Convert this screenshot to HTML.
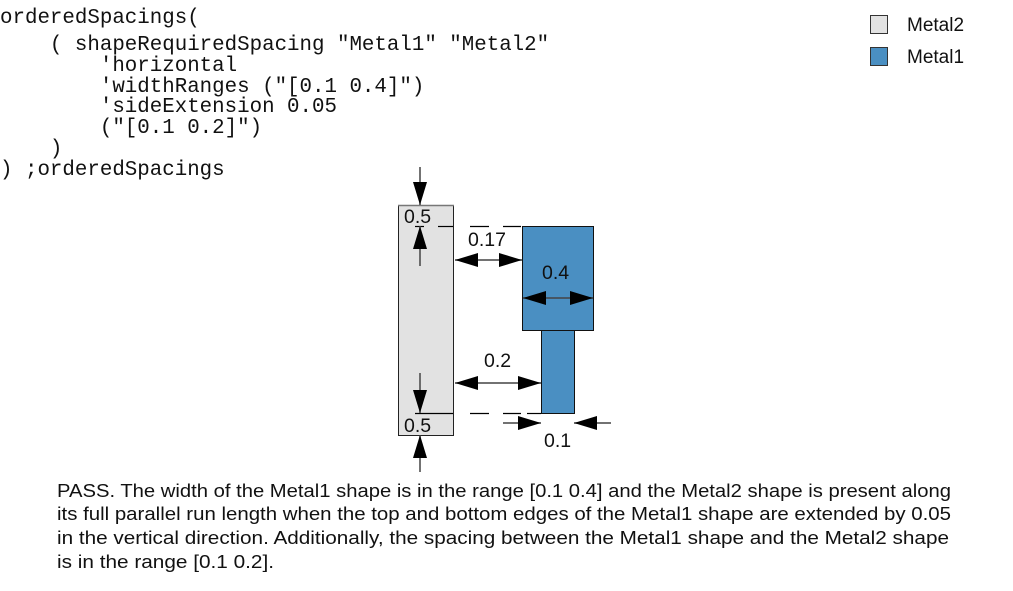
<!DOCTYPE html>
<html><head><meta charset="utf-8"><style>
html,body{margin:0;padding:0;background:#fff;width:1013px;height:591px;overflow:hidden}
svg{display:block}
.m{font-family:"Liberation Mono",monospace;font-size:20.8px;fill:#111}
.s{font-family:"Liberation Sans",sans-serif;fill:#111}
</style></head><body>
<svg width="1013" height="591" viewBox="0 0 1013 591" xmlns="http://www.w3.org/2000/svg">
<defs>
<marker id="a" markerWidth="23" markerHeight="14" refX="23" refY="7" orient="auto" markerUnits="userSpaceOnUse">
<path d="M0,0 L23,7 L0,14 Z" fill="#000"/></marker>
</defs>
<g class="m">
<text x="0" y="23">orderedSpacings(</text>
<text x="0" y="50" xml:space="preserve">    ( shapeRequiredSpacing "Metal1" "Metal2"</text>
<text x="0" y="71" xml:space="preserve">        'horizontal</text>
<text x="0" y="92" xml:space="preserve">        'widthRanges ("[0.1 0.4]")</text>
<text x="0" y="112" xml:space="preserve">        'sideExtension 0.05</text>
<text x="0" y="133" xml:space="preserve">        ("[0.1 0.2]")</text>
<text x="0" y="154" xml:space="preserve">    )</text>
<text x="0" y="175" xml:space="preserve">) ;orderedSpacings</text>
</g>
<rect x="870.5" y="15.5" width="17" height="18" fill="#e2e2e2" stroke="#333"/>
<rect x="870.5" y="47.5" width="17" height="18" fill="#4a8fc2" stroke="#333"/>
<text class="s" x="907" y="31" font-size="19">Metal2</text>
<text class="s" x="907" y="63" font-size="19">Metal1</text>

<rect x="398.5" y="205.5" width="55" height="230" fill="#e2e2e2" stroke="#222"/>
<line x1="398" y1="205.5" x2="454" y2="205.5" stroke="#777" stroke-width="1.5"/>
<rect x="522.5" y="226.5" width="71" height="104" fill="#4a8fc2" stroke="#111"/>
<rect x="541.5" y="330.5" width="33" height="83" fill="#4a8fc2" stroke="#111"/>
<g stroke="#000" stroke-width="1.2">
<line x1="415" y1="226.5" x2="424" y2="226.5"/><line x1="438" y1="226.5" x2="453" y2="226.5"/>
<line x1="470" y1="226.5" x2="489" y2="226.5"/><line x1="503" y1="226.5" x2="521" y2="226.5"/>
<line x1="415" y1="413.5" x2="453" y2="413.5"/>
<line x1="470" y1="413.5" x2="489" y2="413.5"/><line x1="503" y1="413.5" x2="521" y2="413.5"/><line x1="527" y1="413.5" x2="541" y2="413.5"/>
</g>
<g stroke="#444" stroke-width="1.5" fill="none">
<line x1="420" y1="167" x2="420" y2="205" marker-end="url(#a)"/>
<line x1="420" y1="266" x2="420" y2="226" marker-end="url(#a)"/>
<line x1="420" y1="373" x2="420" y2="413" marker-end="url(#a)"/>
<line x1="420" y1="472" x2="420" y2="435" marker-end="url(#a)"/>
<line x1="488" y1="260" x2="455" y2="260" marker-end="url(#a)"/>
<line x1="488" y1="260" x2="522" y2="260" marker-end="url(#a)"/>
<line x1="558" y1="298" x2="523" y2="298" marker-end="url(#a)"/>
<line x1="558" y1="298" x2="593" y2="298" marker-end="url(#a)"/>
<line x1="498" y1="383" x2="455" y2="383" marker-end="url(#a)"/>
<line x1="498" y1="383" x2="541" y2="383" marker-end="url(#a)"/>
<line x1="503" y1="423" x2="541" y2="423" marker-end="url(#a)"/>
<line x1="611" y1="423" x2="574" y2="423" marker-end="url(#a)"/>
</g>
<g class="s" font-size="19.5">
<text x="404" y="223">0.5</text>
<text x="404" y="432">0.5</text>
<text x="468" y="246">0.17</text>
<text x="542" y="279">0.4</text>
<text x="484" y="367">0.2</text>
<text x="544" y="447">0.1</text>
</g>
<g class="s" font-size="18.3">
<text x="57" y="497" textLength="894" lengthAdjust="spacingAndGlyphs">PASS. The width of the Metal1 shape is in the range [0.1 0.4] and the Metal2 shape is present along</text>
<text x="57" y="520" textLength="894" lengthAdjust="spacingAndGlyphs">its full parallel run length when the top and bottom edges of the Metal1 shape are extended by 0.05</text>
<text x="57" y="544" textLength="892" lengthAdjust="spacingAndGlyphs">in the vertical direction. Additionally, the spacing between the Metal1 shape and the Metal2 shape</text>
<text x="57" y="568" textLength="217" lengthAdjust="spacingAndGlyphs">is in the range [0.1 0.2].</text>
</g>
</svg>
</body></html>
